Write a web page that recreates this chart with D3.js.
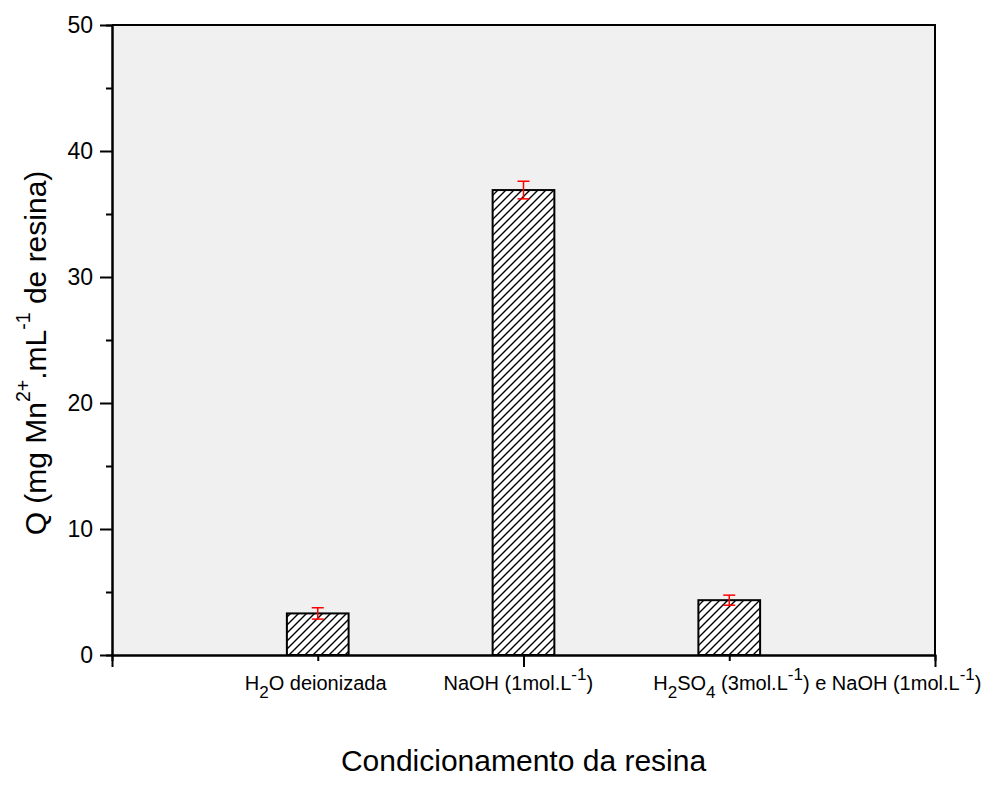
<!DOCTYPE html>
<html>
<head>
<meta charset="utf-8">
<script src="https://cdn.jsdelivr.net/npm/d3@7/dist/d3.min.js"></script>
<style>
  body { margin: 0; background: #fff; }
  text { font-family: "Liberation Sans", Arial, sans-serif; }
</style>
</head>
<body>
<div id="chart"></div>
<script>
// data
const categories = ["H_{2}O deionizada", "NaOH (1mol.L^{-1})", "H_{2}SO_{4} (3mol.L^{-1}) e NaOH (1mol.L^{-1})"];
const positions = [1, 2, 3];
const values = [3.3, 36.9, 4.35];
const errors = [0.45, 0.7, 0.4];
const yTicks = [0, 10, 20, 30, 40, 50];
const yMinorTicks = [5, 15, 25, 35, 45];
const xTicks = [0, 2, 4];
const xMinorTicks = [1, 3];

const [width, height] = [995, 791];
const margin = { top: 25, right: 60, bottom: 136, left: 112 };

const x = d3.scaleLinear().domain([0, 4]).range([margin.left, width - margin.right]);
const y = d3.scaleLinear().domain([0, 50]).range([height - margin.bottom, margin.top]);
const barW = x(0.3) - x(0);

const svg = d3.select("#chart").append("svg")
  .attr("width", width)
  .attr("height", height);

// hatch
svg.append("defs").append("pattern")
  .attr("id", "hatch")
  .attr("patternUnits", "userSpaceOnUse")
  .attr("width", 8).attr("height", 8)
  .call(p => {
    p.append("rect").attr("width", 8).attr("height", 8).attr("fill", "#fff");
    p.append("path")
      .attr("d", "M-2,2 l4,-4 M0,8 l8,-8 M6,10 l4,-4")
      .attr("stroke", "#000").attr("stroke-width", 1.4);
  });

svg.append("rect")
  .attr("x", x(0)).attr("y", y(50))
  .attr("width", x(4) - x(0)).attr("height", y(0) - y(50))
  .attr("fill", "#f0f0f0");

// bars
svg.selectAll("rect.bar")
  .data(values)
  .enter().append("rect")
  .attr("class", "bar")
  .attr("x", (d, i) => x(positions[i]) - barW / 2)
  .attr("y", d => y(d))
  .attr("width", barW)
  .attr("height", d => y(0) - y(d))
  .attr("fill", "url(#hatch)")
  .attr("stroke", "#000")
  .attr("stroke-width", 2);

// error bars
const err = svg.selectAll("g.err")
  .data(values)
  .enter().append("g")
  .attr("class", "err")
  .attr("stroke", "red")
  .attr("stroke-width", 1.5);
err.append("line")
  .attr("x1", (d, i) => x(positions[i])).attr("x2", (d, i) => x(positions[i]))
  .attr("y1", (d, i) => y(d + errors[i])).attr("y2", (d, i) => y(d - errors[i]));
err.append("line")
  .attr("x1", (d, i) => x(positions[i]) - 6).attr("x2", (d, i) => x(positions[i]) + 6)
  .attr("y1", (d, i) => y(d + errors[i])).attr("y2", (d, i) => y(d + errors[i]));
err.append("line")
  .attr("x1", (d, i) => x(positions[i]) - 6).attr("x2", (d, i) => x(positions[i]) + 6)
  .attr("y1", (d, i) => y(d - errors[i])).attr("y2", (d, i) => y(d - errors[i]));

// frame (top + right)
svg.append("path")
  .attr("d", `M${x(0)},${y(50)}H${x(4)}V${y(0)}`)
  .attr("fill", "none").attr("stroke", "#000").attr("stroke-width", 2);

function styleAxis(g) {
  g.selectAll(".domain").attr("stroke-width", 2);
  g.selectAll(".tick line").attr("stroke-width", 2);
}

// y axis
svg.append("g")
  .attr("transform", `translate(${x(0)},0)`)
  .call(d3.axisLeft(y).tickValues(yMinorTicks).tickSize(6).tickFormat(""))
  .call(styleAxis);
svg.append("g")
  .attr("transform", `translate(${x(0)},0)`)
  .call(d3.axisLeft(y).tickValues(yTicks).tickSize(12).tickPadding(7).tickSizeOuter(0))
  .call(styleAxis)
  .call(g => g.selectAll("text")
    .attr("font-size", 23)
    .attr("fill", "#000")
    .attr("font-family", "Liberation Sans, Arial, sans-serif"));

// x axis
svg.append("g")
  .attr("transform", `translate(0,${y(0)})`)
  .call(d3.axisBottom(x).tickValues(xMinorTicks).tickSize(6).tickFormat(""))
  .call(styleAxis);
svg.append("g")
  .attr("transform", `translate(0,${y(0)})`)
  .call(d3.axisBottom(x).tickValues(xTicks).tickSize(12).tickFormat("").tickSizeOuter(0))
  .call(styleAxis);

// rich text: _{..} subscript, ^{..} superscript
function rich(sel, str, size, scale, up, down) {
  const parts = str.split(/([_^]\{[^}]*\})/).filter(s => s.length);
  let shift = 0;
  parts.forEach(p => {
    let target = 0, fs = size, t = p;
    if (p[0] === "_") { target = size * down; fs = size * scale; t = p.slice(2, -1); }
    else if (p[0] === "^") { target = -size * up; fs = size * scale; t = p.slice(2, -1); }
    sel.append("tspan")
      .attr("dy", target - shift)
      .attr("font-size", fs)
      .text(t);
    shift = target;
  });
}

// category labels
const labelDx = [-73, -80, -76];
categories.forEach((c, i) => {
  svg.append("text")
    .attr("x", x(positions[i]) + labelDx[i])
    .attr("y", 690)
    .attr("font-size", 20)
    .attr("fill", "#000")
    .call(t => rich(t, c, 20, 0.85, 0.5, 0.4));
});

// axis titles
svg.append("text")
  .attr("x", (x(0) + x(4)) / 2)
  .attr("y", 771)
  .attr("text-anchor", "middle")
  .attr("font-size", 30)
  .text("Condicionamento da resina");

svg.append("text")
  .attr("transform", "translate(46,353) rotate(-90)")
  .attr("text-anchor", "middle")
  .attr("font-size", 30)
  .call(t => rich(t, "Q (mg Mn^{2+}.mL^{-1}  de resina)", 30, 0.65, 0.55, 0.3));
</script>
</body>
</html>
